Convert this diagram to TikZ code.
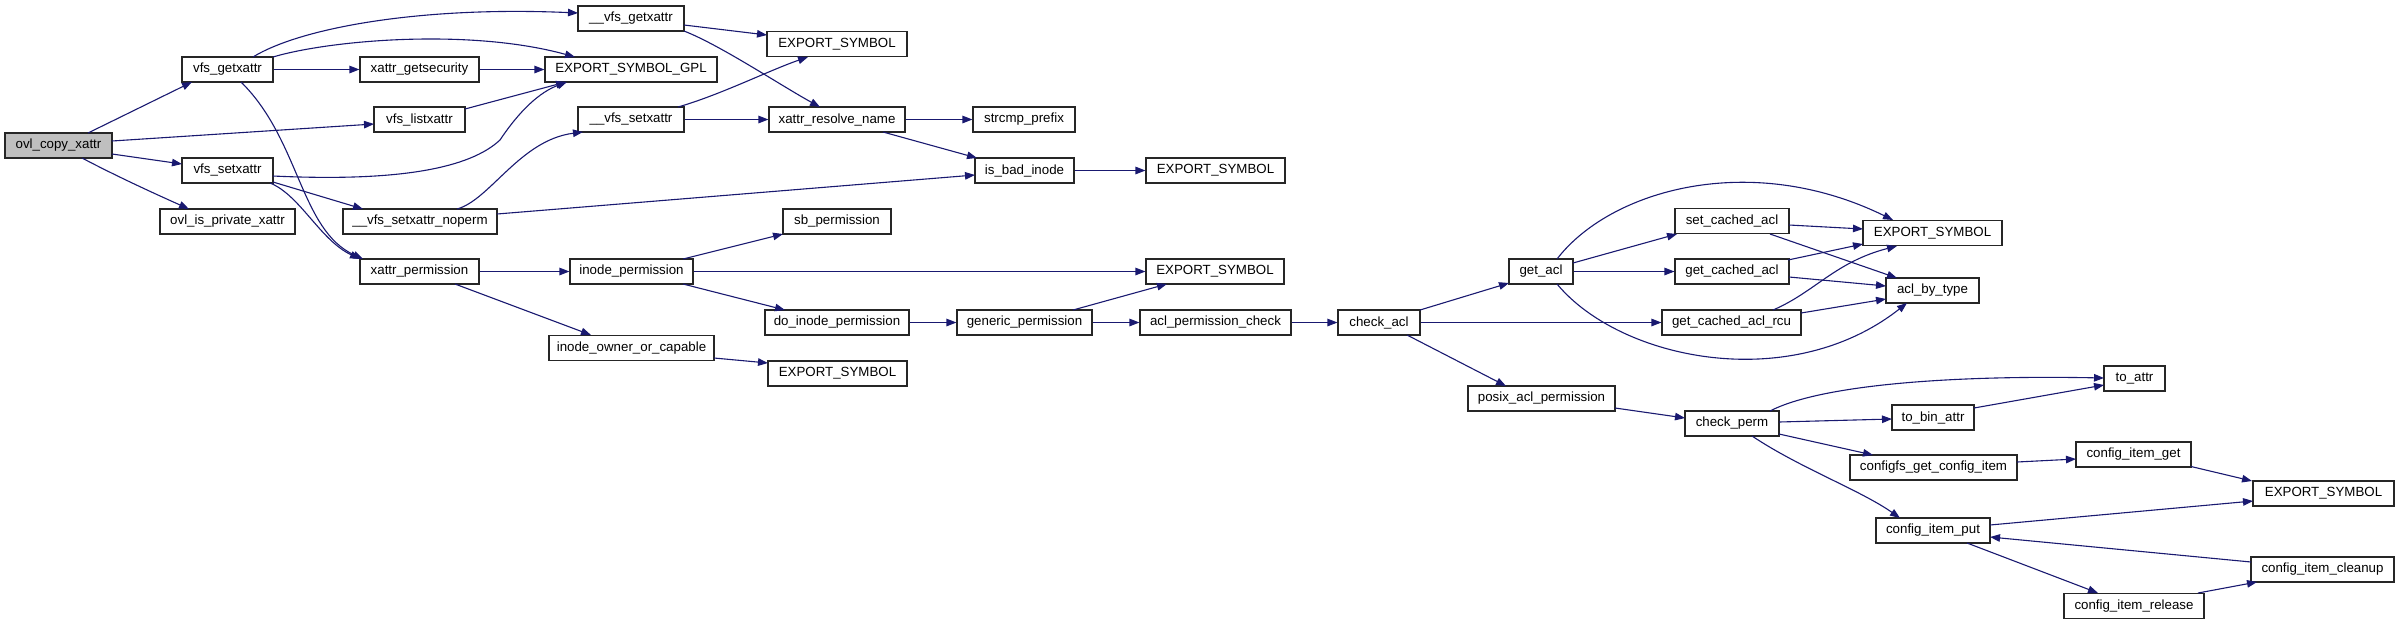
\documentclass[tikz,border=0pt]{standalone}
\usepackage{fontspec}
\setmainfont{Liberation Sans}
\usetikzlibrary{arrows.meta,calc}
\definecolor{edgecol}{HTML}{191970}
\definecolor{rootfill}{HTML}{BFBFBF}
\begin{document}
\begin{tikzpicture}[x=1pt,y=-1pt,
  box/.style={draw=black!85,line width=1.1pt,fill=white,minimum height=25pt,inner sep=0pt,font=\fontsize{13.3}{15}\selectfont},
  edge/.style={draw=edgecol,line width=1.1pt,-{Triangle[length=10pt,width=7.5pt]}}]
\useasboundingbox (0,0) rectangle (2397,625);
% nodes
\node[box,minimum width=107pt,fill=rootfill] (ovl) at (58.5,145.5) {ovl\_copy\_xattr};
\node[box,minimum width=91pt] (vgx) at (227.5,69.5) {vfs\_getxattr};
\node[box,minimum width=119pt] (xgs) at (419.5,69.5) {xattr\_getsecurity};
\node[box,minimum width=172pt] (esg) at (631,69.5) {EXPORT\_SYMBOL\_GPL};
\node[box,minimum width=91pt] (vlx) at (419.5,119.5) {vfs\_listxattr};
\node[box,minimum width=91pt] (vsx) at (227.5,170.5) {vfs\_setxattr};
\node[box,minimum width=135pt] (opx) at (227.5,221.5) {ovl\_is\_private\_xattr};
\node[box,minimum width=154pt] (vsxn) at (420,221.5) {\_\_vfs\_setxattr\_noperm};
\node[box,minimum width=119pt] (xp) at (419.5,271.5) {xattr\_permission};
\node[box,minimum width=106pt] (vgx2) at (631,18.5) {\_\_vfs\_getxattr};
\node[box,minimum width=140pt] (e1) at (837,44) {EXPORT\_SYMBOL};
\node[box,minimum width=106pt] (vsx2) at (631,119.5) {\_\_vfs\_setxattr};
\node[box,minimum width=136pt] (xrn) at (837,119.5) {xattr\_resolve\_name};
\node[box,minimum width=102pt] (scp) at (1024,119.5) {strcmp\_prefix};
\node[box,minimum width=99pt] (ibi) at (1024.5,170.5) {is\_bad\_inode};
\node[box,minimum width=139pt] (e6) at (1215.5,170.5) {EXPORT\_SYMBOL};
\node[box,minimum width=108pt] (sbp) at (837,221.5) {sb\_permission};
\node[box,minimum width=123pt] (ip) at (631.5,271.5) {inode\_permission};
\node[box,minimum width=144pt] (dip) at (837,322.5) {do\_inode\_permission};
\node[box,minimum width=165pt] (ioc) at (631.5,348) {inode\_owner\_or\_capable};
\node[box,minimum width=139pt] (e3) at (837.5,373.5) {EXPORT\_SYMBOL};
\node[box,minimum width=135pt] (gp) at (1024.5,322.5) {generic\_permission};
\node[box,minimum width=138pt] (e2) at (1215,271.5) {EXPORT\_SYMBOL};
\node[box,minimum width=151pt] (apc) at (1215.5,322.5) {acl\_permission\_check};
\node[box,minimum width=82pt] (ca) at (1379,322.5) {check\_acl};
\node[box,minimum width=147pt] (pap) at (1541.5,398.5) {posix\_acl\_permission};
\node[box,minimum width=64pt] (ga) at (1541,271.5) {get\_acl};
\node[box,minimum width=114pt] (sca) at (1732,221) {set\_cached\_acl};
\node[box,minimum width=114pt] (gca) at (1732,271.5) {get\_cached\_acl};
\node[box,minimum width=139pt] (gcr) at (1731.5,322.5) {get\_cached\_acl\_rcu};
\node[box,minimum width=139pt] (e4) at (1932.5,233) {EXPORT\_SYMBOL};
\node[box,minimum width=93pt] (abt) at (1932.5,290.5) {acl\_by\_type};
\node[box,minimum width=94pt] (cp) at (1732,423.5) {check\_perm};
\node[box,minimum width=61pt] (ta) at (2134.5,378.5) {to\_attr};
\node[box,minimum width=82pt] (tba) at (1933,417.5) {to\_bin\_attr};
\node[box,minimum width=167pt] (cgci) at (1933.5,467.5) {configfs\_get\_config\_item};
\node[box,minimum width=115pt] (cig) at (2133.5,454.5) {config\_item\_get};
\node[box,minimum width=141pt] (e5) at (2323.5,493.5) {EXPORT\_SYMBOL};
\node[box,minimum width=114pt] (cip) at (1933,530.5) {config\_item\_put};
\node[box,minimum width=143pt] (cic) at (2322.5,569.5) {config\_item\_cleanup};
\node[box,minimum width=140pt] (cir) at (2134,606) {config\_item\_release};
% edges
\draw[edge] ($(ovl)+(29.5,-12.5)$) -- ($(vgx)+(-35.5,12.5)$);
\draw[edge] ($(ovl)+(53.5,-4.5)$) -- ($(vlx)+(-45.5,4.5)$);
\draw[edge] ($(ovl)+(53.5,8.5)$) -- ($(vsx)+(-45.5,-6.5)$);
\draw[edge] ($(ovl)+(23.5,12.5)$) .. controls (120,178) and (160,196) .. ($(opx)+(-38.5,-12.5)$);
\draw[edge] ($(vgx)+(25.5,-12.5)$) .. controls (300,28) and (420,6) .. ($(vgx2)+(-53,-5.5)$);
\draw[edge] ($(vgx)+(45.5,-12.5)$) .. controls (330,40) and (470,28) .. ($(esg)+(-56,-12.5)$);
\draw[edge] (vgx.east) -- (xgs.west);
\draw[edge] ($(vgx)+(13.5,12.5)$) .. controls (300,140) and (300,230) .. ($(xp)+(-56.5,-12.5)$);
\draw[edge] (xgs.east) -- (esg.west);
\draw[edge] ($(vlx)+(45.5,-10.5)$) -- ($(esg)+(-65,12.5)$);
\draw[edge] ($(vsx)+(45.5,5.5)$) .. controls (400,182) and (470,168) .. (500,140) .. controls (520,110) and (540,92) .. ($(esg)+(-64,12.5)$);
\draw[edge] ($(vsx)+(45.5,11.5)$) -- ($(vsxn)+(-57,-12.5)$);
\draw[edge] ($(vsx)+(42.5,12.5)$) .. controls (300,195) and (320,240) .. ($(xp)+(-59.5,-12.5)$);
\draw[edge] ($(vsxn)+(37,-12.5)$) .. controls (490,200) and (520,140) .. ($(vsx2)+(-48,12.5)$);
\draw[edge] ($(vsxn)+(77,-7.5)$) -- ($(ibi)+(-49.5,4.5)$);
\draw[edge] ($(vgx2)+(53,6.5)$) -- ($(e1)+(-70,-9)$);
\draw[edge] ($(vgx2)+(53,12.5)$) .. controls (720,45) and (780,85) .. ($(xrn)+(-17,-12.5)$);
\draw[edge] ($(vsx2)+(47,-12.5)$) .. controls (720,95) and (770,70) .. ($(e1)+(-29,13)$);
\draw[edge] (vsx2.east) -- (xrn.west);
\draw[edge] (xrn.east) -- (scp.west);
\draw[edge] ($(xrn)+(46,12.5)$) -- ($(ibi)+(-47.5,-12.5)$);
\draw[edge] (ibi.east) -- (e6.west);
\draw[edge] (xp.east) -- (ip.west);
\draw[edge] ($(xp)+(35.5,12.5)$) -- ($(ioc)+(-40.5,-13)$);
\draw[edge] ($(ip)+(51.5,-12.5)$) -- ($(sbp)+(-54,12.5)$);
\draw[edge] (ip.east) -- (e2.west);
\draw[edge] ($(ip)+(51.5,12.5)$) -- ($(dip)+(-52,-12.5)$);
\draw[edge] ($(ioc)+(82.5,10)$) -- ($(e3)+(-69.5,-10.5)$);
\draw[edge] (dip.east) -- (gp.west);
\draw[edge] ($(gp)+(48.5,-12.5)$) -- ($(e2)+(-48,12.5)$);
\draw[edge] (gp.east) -- (apc.west);
\draw[edge] (apc.east) -- (ca.west);
\draw[edge] ($(ca)+(41,-12.5)$) -- ($(ga)+(-32,11.5)$);
\draw[edge] (ca.east) -- (gcr.west);
\draw[edge] ($(ca)+(28,12.5)$) -- ($(pap)+(-35.5,-12.5)$);
\draw[edge] ($(ga)+(16,-12.5)$) .. controls (1610,190) and (1750,150) .. ($(e4)+(-39.5,-13)$);
\draw[edge] ($(ga)+(32,-8.5)$) -- ($(sca)+(-55,13)$);
\draw[edge] (ga.east) -- (gca.west);
\draw[edge] ($(ga)+(16,12.5)$) .. controls (1620,360) and (1790,395) .. ($(abt)+(-25.5,12.5)$);
\draw[edge] ($(sca)+(57,4)$) -- ($(e4)+(-69.5,-4)$);
\draw[edge] ($(sca)+(38,13)$) -- ($(abt)+(-35.5,-12.5)$);
\draw[edge] ($(gca)+(56,-11.5)$) -- ($(e4)+(-69.5,11)$);
\draw[edge] ($(gca)+(57,5.5)$) -- ($(abt)+(-46.5,-4.5)$);
\draw[edge] ($(gcr)+(41.5,-12.5)$) .. controls (1815,292) and (1835,262) .. ($(e4)+(-35.5,13)$);
\draw[edge] ($(gcr)+(69.5,-9.5)$) -- ($(abt)+(-46.5,8.5)$);
\draw[edge] ($(pap)+(73.5,9.5)$) -- ($(cp)+(-47,-5.5)$);
\draw[edge] ($(cp)+(38,-12.5)$) .. controls (1820,385) and (1950,375) .. ($(ta)+(-30.5,-0.5)$);
\draw[edge] ($(cp)+(47,-1.5)$) -- ($(tba)+(-41,1.5)$);
\draw[edge] ($(cp)+(47,10.5)$) -- ($(cgci)+(-60.5,-12.5)$);
\draw[edge] ($(cp)+(20,12.5)$) .. controls (1800,468) and (1860,490) .. ($(cip)+(-33,-12.5)$);
\draw[edge] ($(tba)+(41,-9.5)$) -- ($(ta)+(-30.5,6.5)$);
\draw[edge] ($(cgci)+(83.5,-5.5)$) -- ($(cig)+(-57.5,4.5)$);
\draw[edge] ($(cig)+(57.5,12)$) -- ($(e5)+(-71.5,-12.5)$);
\draw[edge] ($(cip)+(57,-5.5)$) -- ($(e5)+(-70.5,7.5)$);
\draw[edge] ($(cip)+(34,12.5)$) -- ($(cir)+(-36,-13)$);
\draw[edge] ($(cir)+(64,-13)$) -- ($(cic)+(-65.5,12.5)$);
\draw[edge] ($(cic)+(-71.5,-7.5)$) -- ($(cip)+(57,6.5)$);
\end{tikzpicture}
\end{document}
